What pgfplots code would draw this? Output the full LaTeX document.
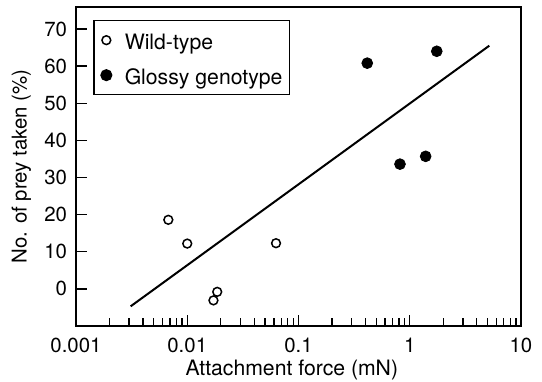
\documentclass[border=0pt]{standalone}
\usepackage{pgfplots}
\pgfplotsset{compat=1.18}
\usepackage{fontspec}
\setmainfont{TeX Gyre Heros}
\begin{document}
\fontsize{10.4bp}{12bp}\selectfont
\begin{tikzpicture}
\path[use as bounding box] (-38bp,-28bp) rectangle (233bp,163bp);
\begin{axis}[
  at={(0,0)}, anchor=south west,
  scale only axis, width=222.5bp, height=159.65bp,
  xmode=log, xmin=0.001, xmax=10, ymin=-10, ymax=76,
  xtick={0.001,0.01,0.1,1,10}, xticklabels={0.001,0.01,0.1,1,10},
  minor xtick={0.002,0.003,0.004,0.005,0.006,0.007,0.008,0.009,0.02,0.03,0.04,0.05,0.06,0.07,0.08,0.09,0.2,0.3,0.4,0.5,0.6,0.7,0.8,0.9,2,3,4,5,6,7,8,9},
  ytick={0,10,20,30,40,50,60,70},
  tick align=inside, tick pos=left,
  major tick length=5.5bp, minor tick length=3.8bp,
  axis line style={line width=0.85bp, black},
  every tick/.style={line width=0.7bp, black},
  /pgf/number format/assume math mode=true,
  ticklabel style={font=\fontsize{10.2bp}{12bp}\selectfont},
  xticklabel style={yshift=-2.5bp},
  yticklabel style={xshift=-0.8bp},
  xlabel={Attachment force (mN)},
  ylabel={No. of prey taken (\%)},
  xlabel style={at={(axis description cs:0.485,-0.1535)}, anchor=base, font=\fontsize{10.6bp}{12bp}\selectfont},
  ylabel style={at={(axis description cs:-0.111,0.5)}, anchor=base, rotate=0, font=\fontsize{10.2bp}{12bp}\selectfont},
  legend style={at={(axis description cs:0.0389,0.9583)}, anchor=north west, draw=black, line width=0.65bp,
    inner xsep=3.5bp, inner ysep=3bp, row sep=4bp, column sep=6.5bp,
    nodes={inner sep=0pt, text height=11.2bp, text depth=2.3bp}, font=\fontsize{10.6bp}{12bp}\selectfont},
  legend cell align=left,
  legend image code/.code={\draw[#1] plot coordinates {(0bp,0bp)};},
]
\addplot[only marks, mark=o, mark size=2.2bp, mark options={line width=0.75bp, black}, black]
  coordinates {(0.00676,18.6) (0.01,12.2) (0.0628,12.3) (0.0186,-0.8) (0.0172,-3.1)};
\addlegendentry{Wild-type}
\addplot[only marks, mark=*, mark size=2.7bp, black]
  coordinates {(0.415,60.8) (1.75,64.0) (0.817,33.6) (1.39,35.7)};
\addlegendentry{Glossy genotype}
\addplot[black, line width=1bp, forget plot] coordinates {(0.0031,-4.7) (5.19,65.5)};
\end{axis}
\end{tikzpicture}
\end{document}
